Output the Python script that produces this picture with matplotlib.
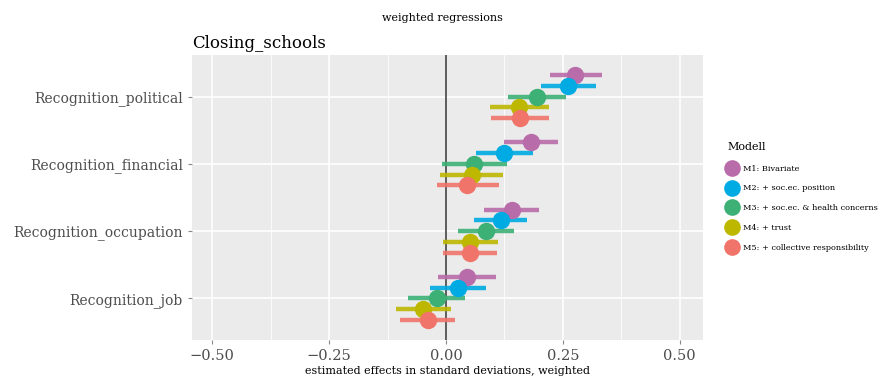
import numpy as np
import matplotlib
matplotlib.use("Agg")
import matplotlib.pyplot as plt
from matplotlib.lines import Line2D

plt.rcParams['font.family'] = ['DejaVu Serif']

# data
outcomes = ["Recognition_political", "Recognition_financial",
            "Recognition_occupation", "Recognition_job"]
models = ["M1: Bivariate", "M2: + soc.ec. position",
          "M3: + soc.ec. & health concerns", "M4: + trust",
          "M5: + collective responsibility"]
colors = ["#B96CAA", "#00AAE2", "#3CB075", "#BDB700", "#F0746A"]

# estimates per model, outcome order as above
est = {
    "M1": [0.276, 0.182, 0.141, 0.044],
    "M2": [0.261, 0.124, 0.117, 0.025],
    "M3": [0.194, 0.060, 0.085, -0.020],
    "M4": [0.156, 0.055, 0.051, -0.049],
    "M5": [0.158, 0.045, 0.051, -0.039],
}
lo = {
    "M1": [0.222, 0.124, 0.081, -0.018],
    "M2": [0.203, 0.064, 0.060, -0.034],
    "M3": [0.132, -0.009, 0.026, -0.081],
    "M4": [0.094, -0.013, -0.006, -0.107],
    "M5": [0.096, -0.019, -0.006, -0.098],
}
hi = {
    "M1": [0.333, 0.239, 0.199, 0.106],
    "M2": [0.320, 0.186, 0.173, 0.085],
    "M3": [0.256, 0.130, 0.145, 0.041],
    "M4": [0.220, 0.122, 0.111, 0.011],
    "M5": [0.220, 0.113, 0.109, 0.019],
}

fig = plt.figure(figsize=(8.85, 3.79), dpi=100)
ax = fig.add_axes([0.217, 0.103, 0.577, 0.752])
ax.set_facecolor("#EBEBEB")

ypos = np.arange(len(outcomes))[::-1]  # political on top
offsets = [0.32, 0.16, 0.0, -0.16, -0.32]

# grid
for x in [-0.375, -0.125, 0.125, 0.375]:
    ax.axvline(x, color="white", lw=0.6, zorder=0)
for x in [-0.5, -0.25, 0, 0.25, 0.5]:
    ax.axvline(x, color="white", lw=1.2, zorder=0)
for y in ypos:
    ax.axhline(y, color="white", lw=1.2, zorder=0)

ax.axvline(0, color="#333333", lw=1.3, alpha=0.85, zorder=1)

for i, key in enumerate(est):
    yy = ypos + offsets[i]
    ax.hlines(yy, lo[key], hi[key], color=colors[i], lw=3.2, alpha=0.9, zorder=2)
    ax.plot(est[key], yy, "o", color=colors[i], ms=12.5, mec="none", zorder=3)

ax.set_xlim(-0.543, 0.549)
ax.set_ylim(-0.62, 3.62)
ax.set_xticks([-0.5, -0.25, 0, 0.25, 0.5])
ax.set_xticklabels(["\u22120.50", "\u22120.25", "0.00", "0.25", "0.50"])
ax.set_yticks(ypos)
ax.set_yticklabels(outcomes)
ax.tick_params(axis="both", labelsize=10.5, length=3, color="#888888",
               labelcolor="#4d4d4d")
ax.tick_params(axis="y", labelsize=10)
for s in ax.spines.values():
    s.set_visible(False)

ax.set_xlabel("estimated effects in standard deviations, weighted",
              fontsize=8, labelpad=2)
ax.set_title("Closing_schools", loc="left", fontsize=12, pad=5)
fig.text(0.5, 0.953, "weighted regressions", ha="center", va="center",
         fontsize=8)

handles = [Line2D([], [], marker="o", ls="none", color=c, ms=12, mec="none")
           for c in colors]
leg = fig.legend(handles, models, title="Modell", loc="center left",
                 bbox_to_anchor=(0.818, 0.48), frameon=False, fontsize=5.9,
                 title_fontsize=8, handletextpad=0.75, labelspacing=1.45,
                 borderaxespad=0, handlelength=1.2)
leg._legend_box.align = "left"
leg._legend_box.sep = 9

fig.savefig("out.png", dpi=100)
